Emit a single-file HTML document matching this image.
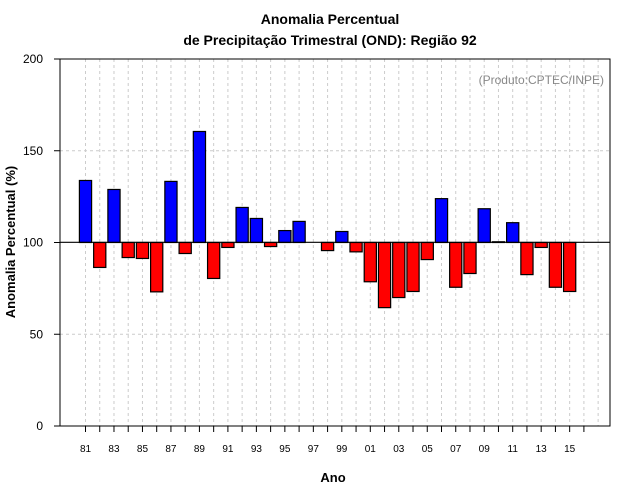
<!DOCTYPE html>
<html><head><meta charset="utf-8"><style>body{margin:0;background:#fff}svg{display:block;font-family:"Liberation Sans",sans-serif}</style></head>
<body>
<svg id="chart" width="640" height="500" viewBox="0 0 640 500">
<text x="330" y="24" text-anchor="middle" font-size="14" font-weight="bold">Anomalia Percentual</text>
<text x="330" y="45" text-anchor="middle" font-size="14" font-weight="bold">de Precipitação Trimestral (OND): Região 92</text>
<g id="grid"></g>
<g id="bars"></g>
<line x1="60" x2="610" y1="242.3" y2="242.3" stroke="#000" stroke-width="1.2"/>
<rect x="60" y="59" width="550" height="367" fill="none" stroke="#000" stroke-width="1"/>
<text x="604" y="84" text-anchor="end" font-size="12" fill="#888">(Produto:CPTEC/INPE)</text>
<g id="axes"></g>
<text transform="translate(15,242) rotate(-90)" text-anchor="middle" font-size="13" font-weight="bold">Anomalia Percentual (%)</text>
<text x="333" y="482" text-anchor="middle" font-size="13" font-weight="bold">Ano</text>
</svg>
<script>
const years=[1981,1982,1983,1984,1985,1986,1987,1988,1989,1990,1991,1992,1993,1994,1995,1996,1997,1998,1999,2000,2001,2002,2003,2004,2005,2006,2007,2008,2009,2010,2011,2012,2013,2014,2015];
const values=[133.8,86.4,128.9,91.8,91.3,73.1,133.3,94.0,160.5,80.4,97.3,119.1,113.1,97.8,106.5,111.5,100,95.6,106,94.9,78.6,64.5,70,73.3,90.7,123.9,75.6,83.1,118.4,100.4,110.8,82.5,97.3,75.6,73.3];
const yTicks=[0,50,100,150,200];
const xLabels=["81","83","85","87","89","91","93","95","97","99","01","03","05","07","09","11","13","15"];
const NS="http://www.w3.org/2000/svg";
function y(v){return 426-v*(367/200);}
function xb(i){return 85.5+i*14.24;}
function mk(t,a,p){const e=document.createElementNS(NS,t);for(const k in a)e.setAttribute(k,a[k]);p.appendChild(e);return e;}
const grid=document.getElementById('grid'),bars=document.getElementById('bars'),axes=document.getElementById('axes');
for(let i=0;i<=36;i++){const l=mk('line',{x1:xb(i),x2:xb(i),y1:59,y2:426,stroke:'#ccc','stroke-dasharray':'3,3'},grid);

}
[50,150].forEach(v=>{const l=mk('line',{x1:60,x2:610,y1:y(v),y2:y(v),stroke:'#ccc','stroke-dasharray':'3,3'},grid);

});
values.forEach((v,i)=>{const top=Math.min(y(v),y(100)),h=Math.abs(y(v)-y(100));
const r=mk('rect',{x:xb(i)-6.1,y:top,width:12.2,height:h,fill:v>=100?'#0000ff':'#ff0000',stroke:'#000','stroke-width':1.2},bars);

});
yTicks.forEach(v=>{const l=mk('line',{x1:54,x2:60,y1:y(v),y2:y(v),stroke:'#000'},axes);


const t=mk('text',{x:43,y:y(v)+4,'text-anchor':'end','font-size':12},axes);t.textContent=v;

});
for(let i=0;i<36;i++){const l=mk('line',{x1:xb(i),x2:xb(i),y1:426,y2:432,stroke:'#000'},axes);

}
xLabels.forEach((s,j)=>{const t=mk('text',{x:xb(j*2),y:452,'text-anchor':'middle','font-size':10},axes);t.textContent=s;

});
</script>
</body></html>
